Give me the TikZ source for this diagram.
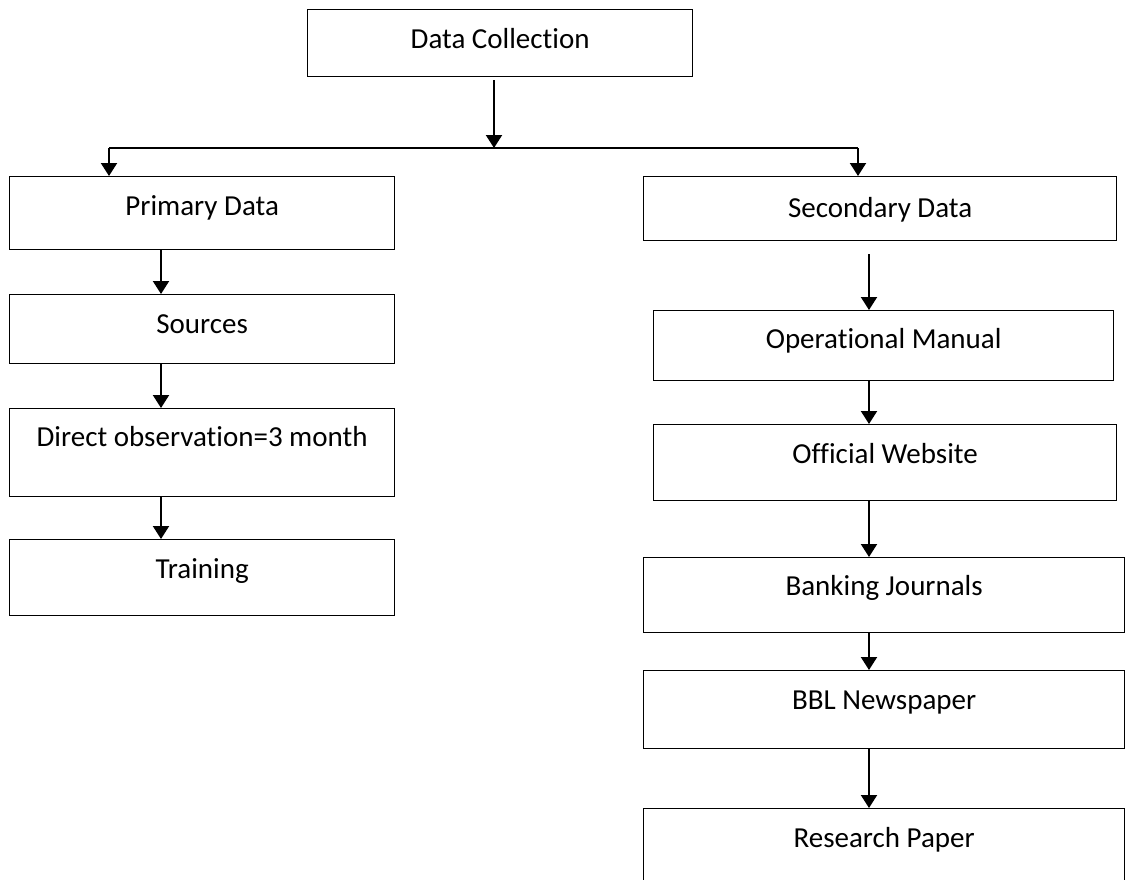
\documentclass[tikz,border=0pt]{standalone}
\usepackage{fontspec}
\setmainfont{Carlito}[Ligatures={NoCommon}]
\usetikzlibrary{arrows.meta}
\tikzset{
  box/.style={draw, line width=0.65pt, inner sep=0pt, anchor=north west,
    font=\fontsize{14.5pt}{17pt}\selectfont},
  arr/.style={line width=1pt, -{Triangle[length=6.5pt,width=8pt]}},
  branch/.style={line width=1pt}
}
\begin{document}
\begin{tikzpicture}[x=0.5pt,y=-0.5pt]
\clip (0,0) rectangle (1125,879);
\fill[white] (0,0) rectangle (1125,879);
% boxes
\node[box, minimum width=192.5pt, text height=19.5pt, text depth=14pt] (dc) at (307,9) {Data Collection};
\node[box, minimum width=192.5pt, text height=19.5pt, text depth=17pt] (pd) at (9,176) {Primary Data};
\node[box, minimum width=192.5pt, text height=19.5pt, text depth=15pt] (src) at (9,294) {Sources};
\node[box, minimum width=192.5pt, text height=19pt, text depth=25pt] (dob) at (9,408) {Direct observation=3 month};
\node[box, minimum width=192.5pt, text height=19.5pt, text depth=18.5pt] (trn) at (9,539) {Training};
\node[box, minimum width=236.5pt, text height=20.5pt, text depth=11.5pt] (sd) at (643,176) {Secondary Data};
\node[box, minimum width=230pt, text height=19pt, text depth=16pt] (om) at (653,310) {Operational Manual};
\node[box, minimum width=231.5pt, text height=19.5pt, text depth=18.5pt] (ow) at (653,424) {Official Website};
\node[box, minimum width=240.5pt, text height=19pt, text depth=18.5pt] (bj) at (643,557) {Banking Journals};
\node[box, minimum width=240.5pt, text height=19.5pt, text depth=19.5pt] (bbl) at (643,670) {BBL Newspaper};
\node[box, minimum width=240.5pt, text height=19.5pt, text depth=30pt] (rp) at (643,808) {Research Paper};
% junction coordinates
\coordinate (j) at (494,148);
\coordinate (jl) at (109,148);
\coordinate (jr) at (858,148);
\coordinate (cl) at (161,0);
\coordinate (cr) at (869,0);
% connectors
\draw[arr, shorten <=1.5pt] (dc.south -| j) -- (j);
\draw[branch] (jl) -- (jr);
\draw[arr] (jl) -- (pd.north -| jl);
\draw[arr] (jr) -- (sd.north -| jr);
\draw[arr] (pd.south -| cl) -- (src.north -| cl);
\draw[arr] (src.south -| cl) -- (dob.north -| cl);
\draw[arr] (dob.south -| cl) -- (trn.north -| cl);
\draw[arr, shorten <=6.5pt] (sd.south -| cr) -- (om.north -| cr);
\draw[arr] (om.south -| cr) -- (ow.north -| cr);
\draw[arr] (ow.south -| cr) -- (bj.north -| cr);
\draw[arr] (bj.south -| cr) -- (bbl.north -| cr);
\draw[arr] (bbl.south -| cr) -- (rp.north -| cr);
\end{tikzpicture}
\end{document}
